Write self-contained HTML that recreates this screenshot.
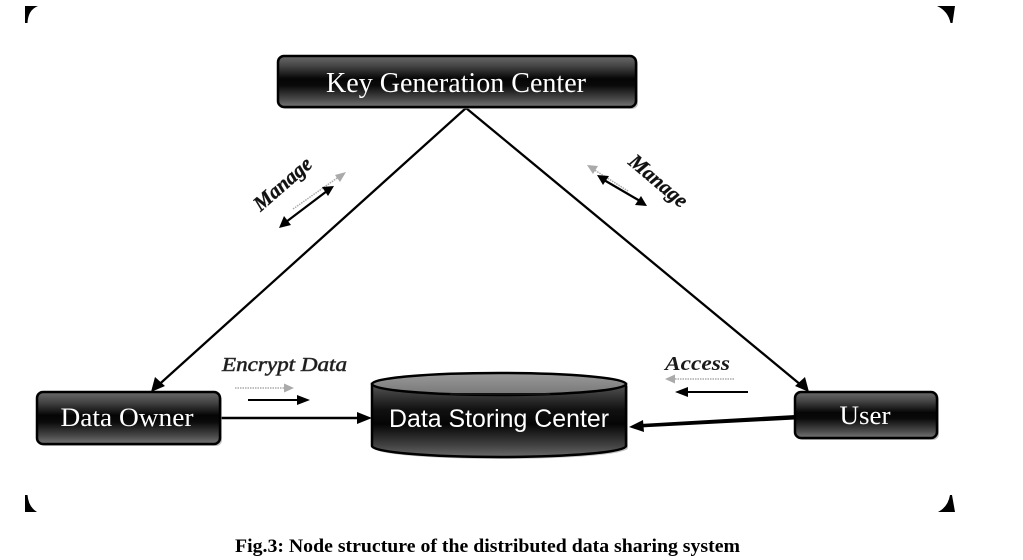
<!DOCTYPE html>
<html>
<head>
<meta charset="utf-8">
<style>
html,body{margin:0;padding:0;background:#fff;}
svg{display:block;}
</style>
</head>
<body>
<svg width="1023" height="560" viewBox="0 0 1023 560" xmlns="http://www.w3.org/2000/svg">
<defs>
<linearGradient id="box" x1="0" y1="0" x2="0" y2="1">
<stop offset="0" stop-color="#6a6a6a"/>
<stop offset="0.2" stop-color="#444"/>
<stop offset="0.45" stop-color="#050505"/>
<stop offset="0.58" stop-color="#0a0a0a"/>
<stop offset="0.85" stop-color="#4a4a4a"/>
<stop offset="1" stop-color="#777"/>
</linearGradient>
<linearGradient id="cyl" x1="0" y1="0" x2="0" y2="1">
<stop offset="0" stop-color="#555"/>
<stop offset="0.35" stop-color="#111"/>
<stop offset="0.55" stop-color="#050505"/>
<stop offset="0.85" stop-color="#444"/>
<stop offset="1" stop-color="#6a6a6a"/>
</linearGradient>
<linearGradient id="cylTop" x1="0" y1="0" x2="0" y2="1">
<stop offset="0" stop-color="#9a9a9a"/>
<stop offset="1" stop-color="#777"/>
</linearGradient>
</defs>

<!-- corner marks -->
<path d="M25,6 L38,6 Q28,10 27.5,23 L25,23 Z" fill="#000"/>
<path d="M937,6 L955,6 L952.5,23 L950.5,23 Q948,11 937,6 Z" fill="#000"/>
<path d="M25,495 L27.5,495 Q28.5,507 37,512 L25,512 Z" fill="#000"/>
<path d="M938,512 Q948,507 950,495 L952,495 L955,512 Z" fill="#000"/>

<!-- main diagonal lines -->
<polyline points="153,390 466,108 807,390" fill="none" stroke="#000" stroke-width="2.3"/>
<polygon points="151,392 155,377 165,386" fill="#000"/>
<polygon points="809,392 795,386 805,377" fill="#000"/>

<!-- Data Owner -> DSC -->
<line x1="220" y1="418" x2="360" y2="418" stroke="#000" stroke-width="2.5"/>
<polygon points="372,418 357,412 357,424" fill="#000"/>

<!-- User -> DSC -->
<polygon points="795,415 795,419.5 640,427.5 640,424" fill="#000"/>
<polygon points="629,427 643,420 644,432" fill="#000"/>

<!-- Encrypt Data -->
<text x="222" y="371" font-family="Liberation Serif, serif" font-style="italic" font-size="20" fill="#1a1a1a" textLength="125" lengthAdjust="spacingAndGlyphs" stroke="#333" stroke-width="0.6">Encrypt Data</text>
<line x1="235" y1="388" x2="285" y2="388" stroke="#aaa" stroke-width="1.5" stroke-dasharray="1.5,1"/>
<polygon points="294,388 284,383.5 284,392.5" fill="#aaa"/>
<line x1="248" y1="400" x2="298" y2="400" stroke="#000" stroke-width="2"/>
<polygon points="310,400 297,395 297,405" fill="#000"/>

<!-- Access -->
<text x="665" y="370" font-family="Liberation Serif, serif" font-style="italic" font-weight="bold" font-size="20" fill="#1a1a1a" textLength="65" lengthAdjust="spacingAndGlyphs">Access</text>
<line x1="675" y1="379" x2="735" y2="379" stroke="#aaa" stroke-width="1.5" stroke-dasharray="1.5,1"/>
<polygon points="665,379 675,374.5 675,383.5" fill="#aaa"/>
<line x1="686" y1="392" x2="748" y2="392" stroke="#000" stroke-width="2"/>
<polygon points="675,392 688,387 688,397" fill="#000"/>

<!-- Left Manage -->
<text x="0" y="0" transform="translate(287,189) rotate(-41)" text-anchor="middle" font-family="Liberation Serif, serif" font-style="italic" font-weight="bold" font-size="21" fill="#111" textLength="70" lengthAdjust="spacingAndGlyphs" stroke="#222" stroke-width="0.4">Manage</text>
<line x1="293" y1="209" x2="340" y2="176" stroke="#aaa" stroke-width="1.5" stroke-dasharray="1.5,1"/>
<polygon points="346,172 335,175 340,182" fill="#aaa"/>
<line x1="286" y1="222" x2="327" y2="191" stroke="#000" stroke-width="2.2"/>
<polygon points="279,228 284,216 291,225" fill="#000"/>
<polygon points="334,186 322,187 328,196" fill="#000"/>

<!-- Right Manage -->
<text x="0" y="0" transform="translate(654,186) rotate(40)" text-anchor="middle" font-family="Liberation Serif, serif" font-style="italic" font-weight="bold" font-size="21" fill="#111" textLength="70" lengthAdjust="spacingAndGlyphs" stroke="#222" stroke-width="0.4">Manage</text>
<line x1="593" y1="169" x2="628" y2="191" stroke="#aaa" stroke-width="1.5" stroke-dasharray="1.5,1"/>
<polygon points="587,165 598,166 593,174" fill="#aaa"/>
<line x1="604" y1="180" x2="640" y2="201" stroke="#000" stroke-width="2.2"/>
<polygon points="597,175 609,176 603,185" fill="#000"/>
<polygon points="647,206 635,205 641,196" fill="#000"/>

<!-- Key Generation Center -->
<rect x="280" y="58" width="358" height="51" rx="6" fill="#999" opacity="0.6"/>
<rect x="278" y="56" width="358" height="51" rx="6" fill="url(#box)" stroke="#000" stroke-width="2.5"/>
<text x="456" y="92" text-anchor="middle" font-family="Liberation Serif, serif" font-size="28" fill="#fff" textLength="260" lengthAdjust="spacingAndGlyphs">Key Generation Center</text>

<!-- Data Owner -->
<rect x="39" y="394" width="183" height="52" rx="6" fill="#999" opacity="0.6"/>
<rect x="37" y="392" width="183" height="52" rx="6" fill="url(#box)" stroke="#000" stroke-width="2.5"/>
<text x="127" y="426" text-anchor="middle" font-family="Liberation Serif, serif" font-size="26" fill="#fff" textLength="133" lengthAdjust="spacingAndGlyphs">Data Owner</text>

<!-- User -->
<rect x="797" y="394" width="142" height="46" rx="6" fill="#999" opacity="0.6"/>
<rect x="795" y="392" width="142" height="46" rx="6" fill="url(#box)" stroke="#000" stroke-width="2.5"/>
<text x="865" y="424" text-anchor="middle" font-family="Liberation Serif, serif" font-size="26" fill="#fff" textLength="51" lengthAdjust="spacingAndGlyphs">User</text>

<!-- Data Storing Center cylinder -->
<path d="M372,384 L372,446 A127,11 0 0 0 626,446 L626,384 Z" fill="#888" opacity="0.5" transform="translate(2,2)"/>
<path d="M372,384 L372,446 A127,11 0 0 0 626,446 L626,384 Z" fill="url(#cyl)" stroke="#000" stroke-width="2.5"/>
<ellipse cx="499" cy="384" rx="127" ry="11" fill="url(#cylTop)" stroke="#000" stroke-width="2.5"/>
<line x1="450" y1="394" x2="550" y2="394" stroke="#111" stroke-width="2"/>
<text x="499" y="427" text-anchor="middle" font-family="Liberation Sans, sans-serif" font-size="25" fill="#fff" textLength="220" lengthAdjust="spacingAndGlyphs">Data Storing Center</text>

<!-- Caption -->
<text x="235" y="552" font-family="Liberation Serif, serif" font-weight="bold" font-size="19" fill="#000" textLength="505" lengthAdjust="spacingAndGlyphs">Fig.3: Node structure of the distributed data sharing system</text>
</svg>
</body>
</html>
